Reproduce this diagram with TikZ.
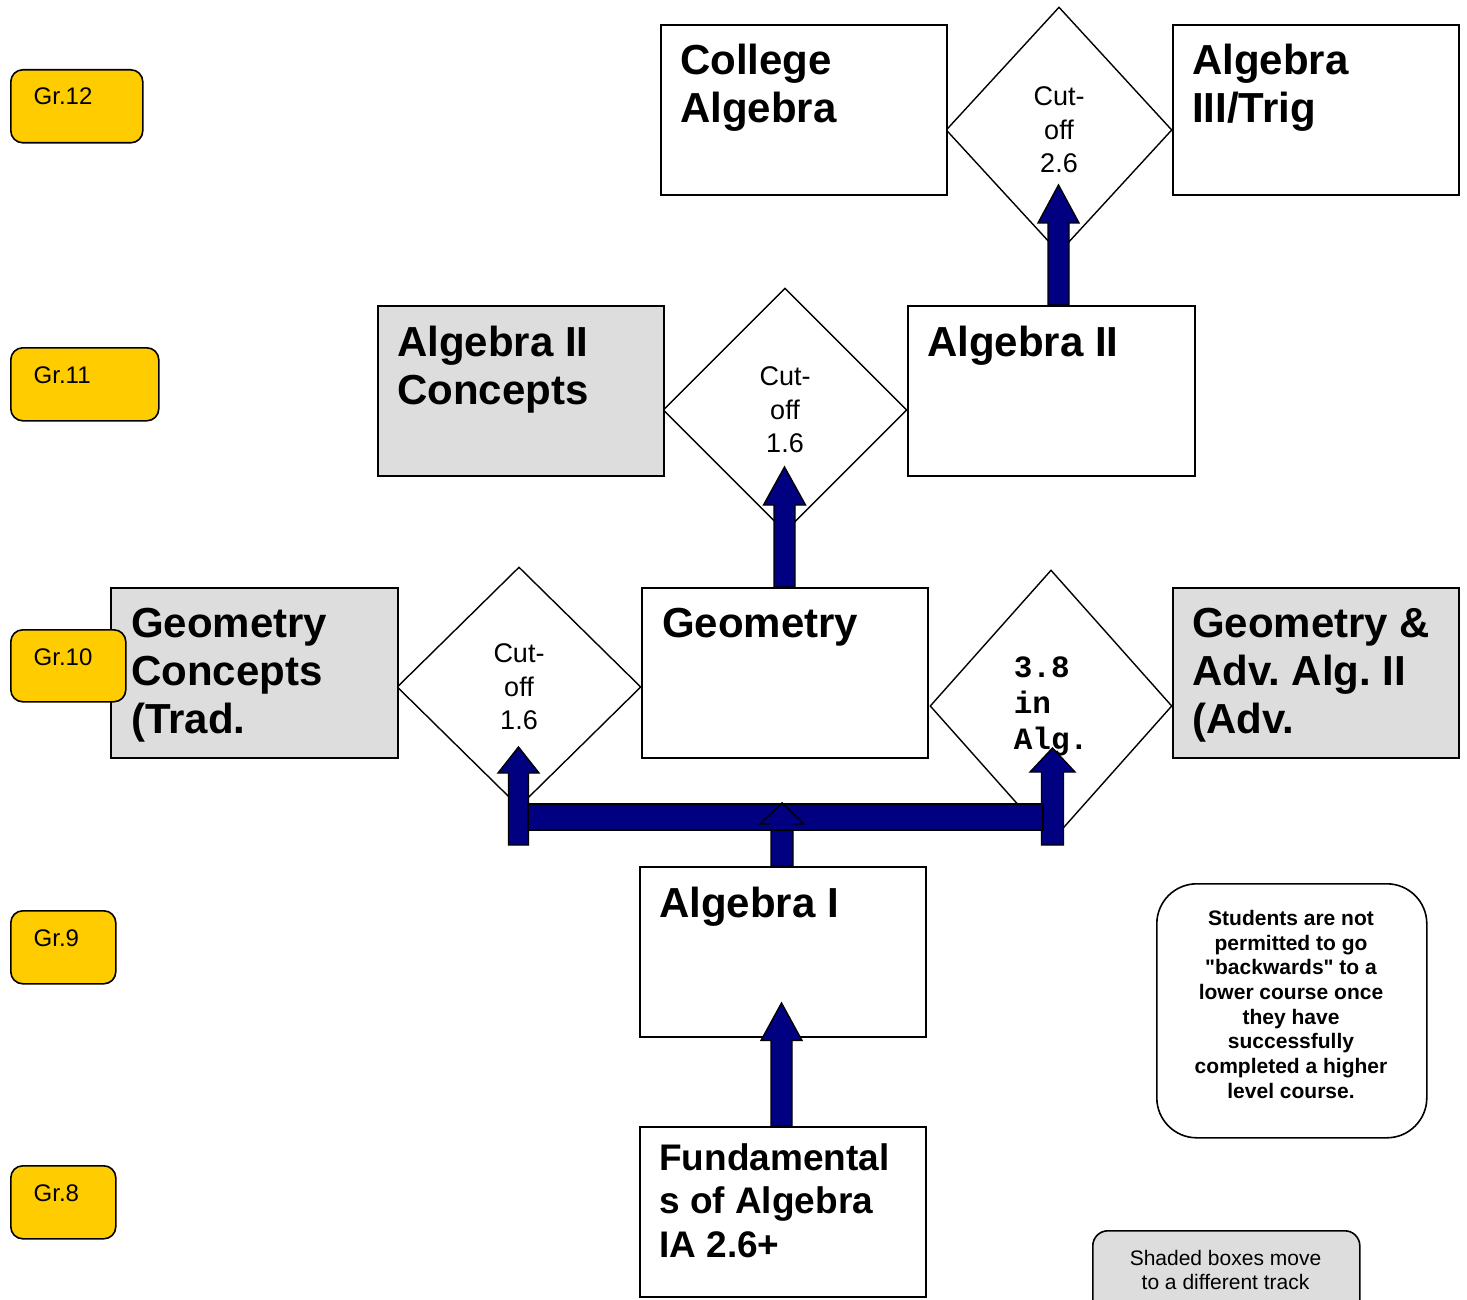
\documentclass[tikz,border=0pt]{standalone}
\usepackage{fontspec}
\setmainfont{Liberation Sans}
% same face without TeX quote ligatures, so that " stays straight
\newfontfamily\plainsans{Liberation Sans}
\newfontfamily\codefont{Liberation Mono}
\usetikzlibrary{shapes.geometric,calc}
\frenchspacing

\definecolor{gradegold}{HTML}{FFCC00}
\definecolor{trackshade}{HTML}{DDDDDD}
\definecolor{arrownavy}{HTML}{000080}

\tikzset{
  course/.style={draw=black, line width=1.8pt, fill=white, minimum width=286pt,
    minimum height=170pt, inner sep=0pt, anchor=north west},
  shaded/.style={course, fill=trackshade},
  title/.style={anchor=north west, inner sep=0pt, align=left,
    font=\bfseries\fontsize{42}{48}\selectfont},
  smalltitle/.style={title, font=\bfseries\fontsize{37}{43.5}\selectfont},
  cutoff/.style={shape=diamond, draw=black, line width=1.4pt, fill=white,
    inner sep=0pt, align=center, font=\fontsize{27}{33.5}\selectfont},
  gradebox/.style={draw=black, line width=1.6pt, fill=gradegold,
    rounded corners=12pt, inner sep=0pt, anchor=north west},
  gradetext/.style={anchor=base west, inner sep=0pt, font=\fontsize{24}{28}\selectfont},
  notebox/.style={draw=black, line width=1.6pt, fill=white, rounded corners=40pt,
    inner sep=0pt, anchor=north west},
  blockarrow/.style={fill=arrownavy, draw=black, line width=1.4pt, line join=miter},
}

% upward block arrow: #1 foot, #2 tip, #3 half shaft, #4 half head, #5 head length
\newcommand\CourseArrow[5]{%
  \draw[blockarrow] ($(#1)+(-#3,0)$) -- ($(#2)+(-#3,#5)$) -- ($(#2)+(-#4,#5)$)
    -- (#2) -- ($(#2)+(#4,#5)$) -- ($(#2)+(#3,#5)$) -- ($(#1)+(#3,0)$) -- cycle;}

\begin{document}
\begin{tikzpicture}[x=1pt,y=-1pt]
\useasboundingbox (0,0) rectangle (1467,1300);
\clip (0,0) rectangle (1467,1300);

% cut-off decisions
\node[cutoff, minimum width=226pt, minimum height=246pt] (dTop) at (1059,130) {Cut-\\off\\2.6};
\node[cutoff, minimum width=244pt, minimum height=244pt] (dMid) at (785,410) {Cut-\\off\\1.6};
\node[cutoff, minimum width=244pt, minimum height=240pt] (dLeft) at (519,687) {Cut-\\off\\1.6};
\node[cutoff, align=left, minimum width=242pt, minimum height=272pt,
      font=\codefont\bfseries\fontsize{31}{36}\selectfont] (dRight) at (1051,706) {3.8\\in\\Alg.};

% courses
\node[course] (coll) at (660,24) {};
\node[course] (trig) at (1172,24) {};
\node[shaded] (a2c) at (377,305) {};
\node[course, minimum width=287pt] (a2) at (907,305) {};
\node[shaded, minimum width=287pt] (gc) at (110,587) {};
\node[course] (geo) at (641,587) {};
\node[shaded] (gadv) at (1172,587) {};
\node[course] (a1) at (639,866) {};
\node[course] (fund) at (639,1126) {};

\node[title] (collT) at ($(coll.north west)+(20,20)$) {College\\Algebra};
\node[title] (trigT) at ($(trig.north west)+(20,20)$) {Algebra\\III/Trig};
\node[title] (a2cT) at ($(a2c.north west)+(20,21)$) {Algebra II\\Concepts};
\node[title] (a2T) at ($(a2.north west)+(20,21)$) {Algebra II};
\node[title] (gcT) at ($(gc.north west)+(21,21)$) {Geometry\\Concepts\\(Trad.};
\node[title] (geoT) at ($(geo.north west)+(21,21)$) {Geometry};
\node[title] (gadvT) at ($(gadv.north west)+(20,21)$) {Geometry \&\\Adv. Alg. II\\(Adv.};
\node[title] (a1T) at ($(a1.north west)+(20,21)$) {Algebra I};
\node[smalltitle] (fundT) at ($(fund.north west)+(20,17)$) {Fundamental\\s of Algebra\\IA 2.6+};

% grade levels
\node[gradebox, minimum width=132pt, minimum height=73pt] (g12) at (10,69) {};
\node[gradebox, minimum width=148pt, minimum height=73pt] (g11) at (10,347) {};
\node[gradebox, minimum width=115pt, minimum height=72pt] (g10) at (10,629) {};
\node[gradebox, minimum width=105pt, minimum height=73pt] (g9) at (10,910) {};
\node[gradebox, minimum width=105pt, minimum height=73pt] (g8) at (10,1165) {};
\node[gradetext] (g12T) at (33.5,105) {Gr.12};
\node[gradetext] (g11T) at (33.5,383) {Gr.11};
\node[gradetext] (g10T) at (33.5,665) {Gr.10};
\node[gradetext] (g9T) at (33.5,946) {Gr.9};
\node[gradetext] (g8T) at (33.5,1201) {Gr.8};

% notes
\node[notebox, minimum width=270pt, minimum height=254pt] (note) at (1156,883) {};
\node[anchor=north, inner sep=0pt, align=center,
      font=\plainsans\bfseries\fontsize{21}{24.7}\selectfont] (noteT) at (1291,910)
  {Students are not\\permitted to go\\"backwards" to a\\lower course once\\they have\\successfully\\completed a higher\\level course.};
\node[notebox, rounded corners=15pt, fill=trackshade, minimum width=267pt,
      minimum height=100pt] (legend) at (1092,1230) {};
\node[anchor=north, inner sep=0pt, align=center,
      font=\fontsize{21}{24}\selectfont] (legendT) at (1225.5,1250)
  {Shaded boxes move\\to a different track};

% progression arrows
\coordinate (tipFund) at (781.5,1003);
\coordinate (footFund) at (tipFund |- fund.north);
\CourseArrow{footFund}{tipFund}{10.5}{20.5}{37.5}

\coordinate (tipA2) at (1058.5,185);
\coordinate (footA2) at (tipA2 |- a2.north);
\CourseArrow{footA2}{tipA2}{10.5}{20.5}{38}

\coordinate (tipGeo) at (784.5,467);
\coordinate (footGeo) at (tipGeo |- geo.north);
\CourseArrow{footGeo}{tipGeo}{10.5}{21}{38}

% Algebra I branches left and right
\coordinate (tipL) at (518.5,747);
\coordinate (footL) at (518.5,845);
\CourseArrow{footL}{tipL}{10}{20.5}{26}
\coordinate (tipR) at (1052.5,748);
\coordinate (footR) at (1052.5,845);
\CourseArrow{footR}{tipR}{11}{22.5}{24}

\coordinate (tipA1) at (782,803);
\coordinate (footA1) at (tipA1 |- a1.north);
\CourseArrow{footA1}{tipA1}{11}{22}{21}

\coordinate (barW) at (528,804);
\coordinate (barE) at (1043,830);
\draw[blockarrow] (barW) rectangle (barE);
\draw[line width=1.4pt, line join=miter]
  ($(tipA1)+(-11,21)$) -- ($(tipA1)+(-22,21)$) -- (tipA1) -- ($(tipA1)+(22,21)$) -- ($(tipA1)+(11,21)$);
\end{tikzpicture}
\end{document}
